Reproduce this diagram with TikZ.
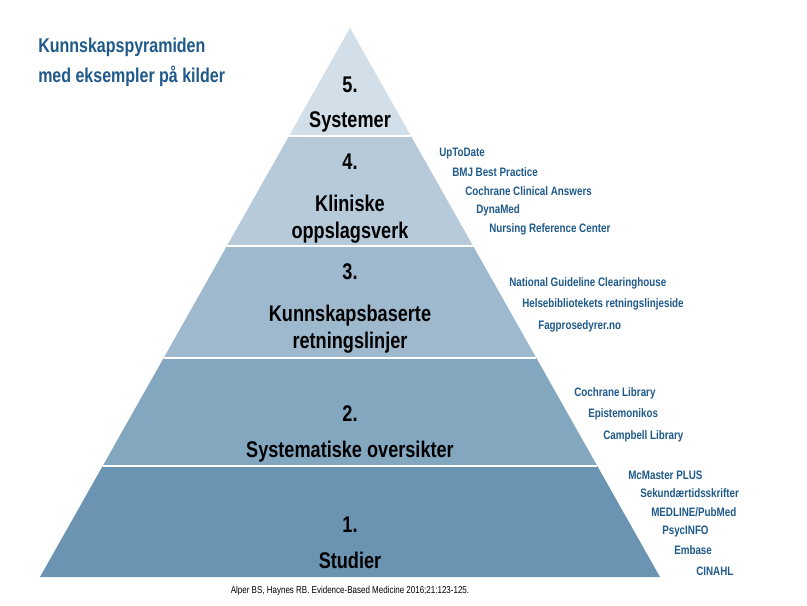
\documentclass[tikz,border=0pt]{standalone}
\usepackage{fontspec}
\setmainfont{Liberation Sans}[FakeStretch=0.8,BoldFont={Liberation Sans Bold}]
\begin{document}
\begin{tikzpicture}[x=0.75pt,y=-0.75pt,
  lay/.style={draw=white,line width=1.2pt},
  big/.style={font=\bfseries\fontsize{17}{20}\selectfont,text=black,align=center},
  src/.style={font=\bfseries\fontsize{9.2}{11}\selectfont,text=blue1,anchor=west,inner sep=0pt},
  ttl/.style={font=\bfseries\fontsize{15}{18}\selectfont,text=blue1,anchor=west,inner sep=0pt}]
\definecolor{blue1}{HTML}{1F5A8A}
\definecolor{c5}{HTML}{D3DFE8}
\definecolor{c4}{HTML}{B6CADA}
\definecolor{c3}{HTML}{9EB9CD}
\definecolor{c2}{HTML}{84A7C0}
\definecolor{c1}{HTML}{6B93B2}
\useasboundingbox (0,0) rectangle (807,606);
\fill[white] (0,0) rectangle (807,606);
\def\lx#1{350-0.56466*(#1-28)}
\def\rx#1{350+0.56466*(#1-28)}
\fill[c5] (350,28) -- ({\rx{136}},136) -- ({\lx{136}},136) -- cycle;
\fill[c4] ({\lx{136}},136) -- ({\rx{136}},136) -- ({\rx{246}},246) -- ({\lx{246}},246) -- cycle;
\fill[c3] ({\lx{246}},246) -- ({\rx{246}},246) -- ({\rx{358}},358) -- ({\lx{358}},358) -- cycle;
\fill[c2] ({\lx{358}},358) -- ({\rx{358}},358) -- ({\rx{466}},466) -- ({\lx{466}},466) -- cycle;
\fill[c1] ({\lx{466}},466) -- ({\rx{466}},466) -- (660,577) -- (40,577) -- cycle;
\foreach \y in {136,246,358,466} \draw[lay] ({\lx{\y}},\y) -- ({\rx{\y}},\y);
\node[big] (n5) at (350,85) {5.};
\node[big] (t5) at (350,122) {Systemer};
\node[big] (n4) at (350,162) {4.};
\node[big] (t4) at (350,219) {Kliniske\\oppslagsverk};
\node[big] (n3) at (350,272) {3.};
\node[big] (t3) at (350,329) {Kunnskapsbaserte\\retningslinjer};
\node[big] (n2) at (350,414) {2.};
\node[big] (t2) at (350,452) {Systematiske oversikter};
\node[big] (n1) at (350,525) {1.};
\node[big] (t1) at (350,560) {Studier};
\node[ttl] (ta) at (38,47) {Kunnskapspyramiden};
\node[ttl] (tb) at (38,76) {med eksempler på kilder};
\node[src] at (439,154) {UpToDate};
\node[src] at (452,172) {BMJ Best Practice};
\node[src] at (465,191) {Cochrane Clinical Answers};
\node[src] at (476,210) {DynaMed};
\node[src] at (489,229) {Nursing Reference Center};
\node[src] at (509,283) {National Guideline Clearinghouse};
\node[src] at (522,304) {Helsebibliotekets retningslinjeside};
\node[src] at (538,326) {Fagprosedyrer.no};
\node[src] at (574,393) {Cochrane Library};
\node[src] at (588,414) {Epistemonikos};
\node[src] at (603,436) {Campbell Library};
\node[src] at (628,475) {McMaster PLUS};
\node[src] at (640,493) {Sekundærtidsskrifter};
\node[src] at (651,512) {MEDLINE/PubMed};
\node[src] at (662,531) {PsycINFO};
\node[src] at (674,550) {Embase};
\node[src] at (696,571) {CINAHL};
\node[font=\fontsize{7.5}{9}\selectfont] (ft) at (350,591) {Alper BS, Haynes RB. Evidence-Based Medicine 2016;21:123-125.};
\end{tikzpicture}
\end{document}
